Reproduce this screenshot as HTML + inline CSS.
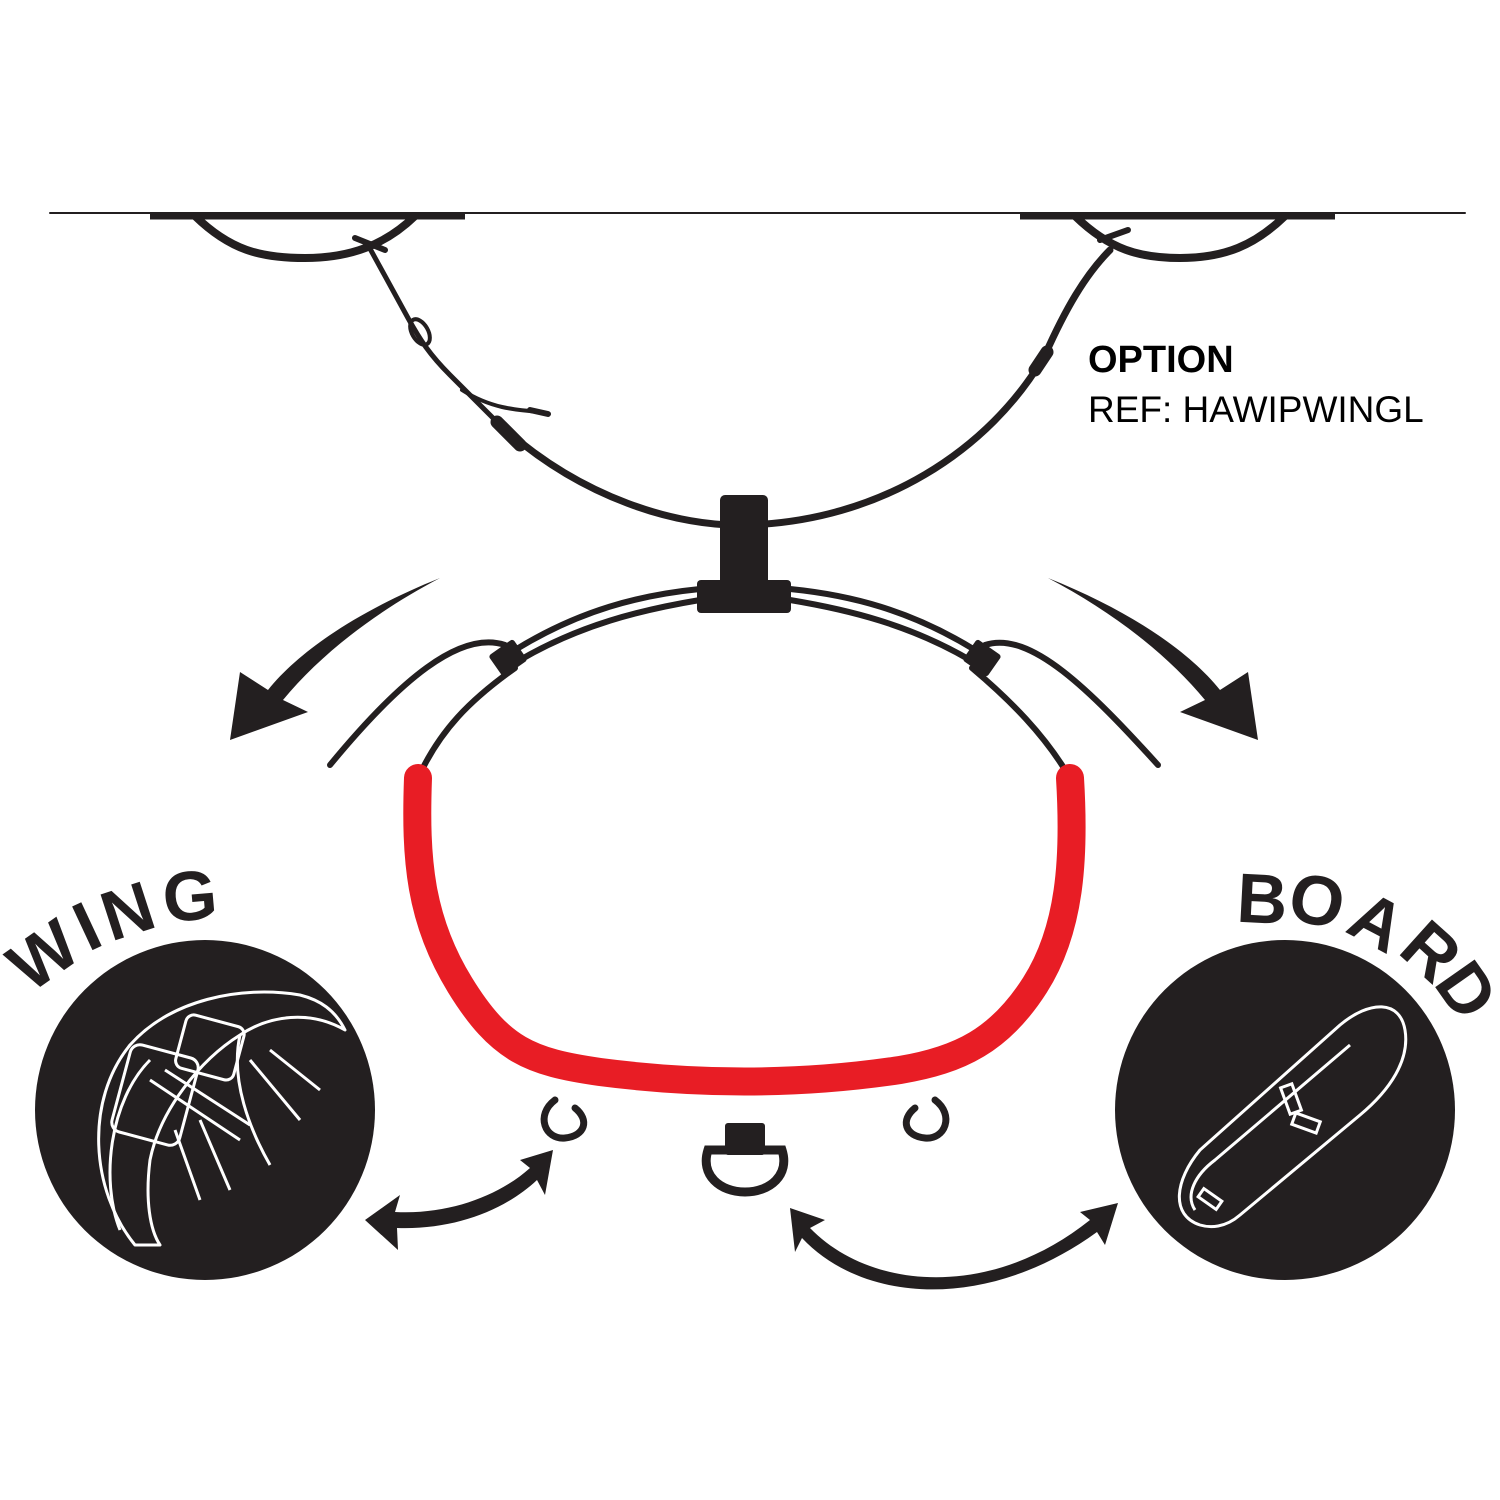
<!DOCTYPE html>
<html><head><meta charset="utf-8"><style>html,body{margin:0;padding:0;background:#fff}svg{display:block}</style></head>
<body>
<svg width="1500" height="1500" viewBox="0 0 1500 1500" xmlns="http://www.w3.org/2000/svg" font-family="Liberation Sans, sans-serif">
<rect width="1500" height="1500" fill="#fff"/>
<g fill="none" stroke="#231f20" stroke-linecap="round">
<line x1="50" y1="213" x2="1465" y2="213" stroke-width="2"/>
<line x1="150" y1="216" x2="465" y2="216" stroke-width="7" stroke-linecap="butt"/>
<line x1="1020" y1="216" x2="1335" y2="216" stroke-width="7" stroke-linecap="butt"/>
<path d="M195,216 C230,250 260,258 305,258 C350,258 385,245 415,216" stroke-width="8"/>
<path d="M1075,216 C1110,250 1140,258 1180,258 C1225,258 1255,245 1285,216" stroke-width="8"/>
<path d="M368,245 L408,318 C420,340 430,355 450,375 L500,425" stroke-width="5"/>
<ellipse cx="420" cy="332" rx="8" ry="14" transform="rotate(-30 420 332)" stroke-width="4"/>
<path d="M462,390 C490,408 515,410 540,412" stroke-width="4"/>
<path d="M355,238 L385,250 M530,410 L548,414" stroke-width="6"/>
<path d="M1100,240 L1128,230" stroke-width="6"/>
<path d="M495,420 C580,500 680,527 745,525 C880,522 990,450 1045,355 C1065,310 1085,275 1110,250" stroke-width="7"/>
<path d="M497,422 L520,445" stroke-width="13"/>
<path d="M1035,370 L1047,352" stroke-width="13"/>
<path d="M515,650 C580,610 640,595 700,589 M520,660 C580,625 640,610 700,600" stroke-width="6"/>
<path d="M975,650 C910,610 850,595 790,589 M970,660 C910,625 850,610 790,600" stroke-width="6"/>
<path d="M505,645 C460,630 400,680 330,765" stroke-width="6"/>
<path d="M985,645 C1030,630 1090,690 1158,765" stroke-width="6"/>
<path d="M515,668 C470,700 440,730 418,778" stroke-width="6"/>
<path d="M972,668 C1010,700 1045,735 1070,778" stroke-width="6"/>
<path d="M555,1100 C535,1115 545,1140 565,1138 C585,1136 590,1120 575,1108" stroke-width="7"/>
<path d="M935,1100 C955,1115 945,1140 925,1138 C905,1136 900,1120 915,1108" stroke-width="7"/>
<path d="M708,1150 C700,1175 720,1192 745,1192 C770,1192 790,1175 782,1150 Z" stroke-width="9"/>
</g>
<g fill="#231f20">
<rect x="720" y="495" width="48" height="92" rx="5"/>
<rect x="697" y="580" width="94" height="33" rx="4"/>
<rect x="493" y="645" width="30" height="26" rx="3" transform="rotate(-35 508 658)"/>
<rect x="967" y="645" width="30" height="26" rx="3" transform="rotate(35 982 658)"/>
<rect x="725" y="1123" width="40" height="32" rx="3"/>
<path d="M440,578 C360,610 300,650 268,690 L240,672 L230,740 L308,712 L283,700 C320,655 375,612 440,578 Z"/>
<path d="M1048,578 C1128,610 1188,650 1220,690 L1248,672 L1258,740 L1180,712 L1205,700 C1168,655 1113,612 1048,578 Z"/>
<circle cx="205" cy="1110" r="170"/>
<circle cx="1285" cy="1110" r="170"/>
<path d="M365,1220 L400,1195 L395,1212 C450,1215 500,1195 530,1168 L520,1160 L553,1150 L545,1195 L537,1180 C505,1210 455,1230 397,1228 L398,1250 Z"/>
<path d="M790,1208 L825,1220 L810,1228 C870,1290 990,1300 1090,1220 L1080,1212 L1118,1203 L1105,1245 L1097,1232 C990,1310 865,1305 802,1238 L795,1252 Z"/>
</g>
<path d="M418,778 C415,860 420,920 460,985 C500,1050 530,1062 600,1072 C700,1085 800,1085 900,1070 C960,1060 1000,1040 1035,985 C1070,930 1075,860 1070,778" fill="none" stroke="#e81d25" stroke-width="28" stroke-linecap="round"/>
<g fill="none" stroke="#fff" stroke-width="3" stroke-linejoin="round">
<path d="M135,1245 C90,1190 85,1100 130,1045 C170,1000 240,985 300,995 C320,1000 335,1010 345,1030 C310,1010 270,1015 240,1035 C200,1060 160,1110 150,1160 C145,1200 150,1230 160,1245 Z"/>
<path d="M120,1230 C100,1180 110,1100 150,1060 M240,1035 C230,1080 250,1130 270,1165"/>
<rect x="120" y="1050" width="70" height="90" rx="10" transform="rotate(15 155 1095)"/>
<rect x="180" y="1020" width="60" height="55" rx="8" transform="rotate(15 210 1047)"/>
<path d="M150,1080 L240,1140 M165,1070 L250,1125 M175,1130 L200,1200 M200,1120 L230,1190 M250,1060 L300,1120 M270,1050 L320,1090"/>
</g>
<g fill="none" stroke="#fff" stroke-width="3">
<path d="M1200,1225 C1170,1215 1175,1180 1200,1150 L1340,1025 C1370,1000 1400,1000 1405,1030 C1410,1060 1390,1090 1360,1115 L1240,1215 C1225,1228 1210,1228 1200,1225 Z"/>
<path d="M1195,1210 C1185,1195 1195,1175 1215,1160 L1350,1045"/>
<rect x="1285" y="1085" width="12" height="28" transform="rotate(-20 1291 1099)"/>
<rect x="1300" y="1110" width="12" height="26" transform="rotate(-70 1306 1123)"/>
<rect x="1205" y="1188" width="10" height="22" transform="rotate(-55 1210 1199)"/>
</g>
<g font-weight="bold" font-size="70" fill="#231f20" text-anchor="middle">
<text transform="translate(57,975) rotate(-35)">W</text>
<text transform="translate(97,948) rotate(-25)">I</text>
<text transform="translate(135,934) rotate(-18)">N</text>
<text transform="translate(192,920) rotate(-5)">G</text>
<text transform="translate(1261,923) rotate(3)">B</text>
<text transform="translate(1312,924) rotate(12)">O</text>
<text transform="translate(1366,943) rotate(28)">A</text>
<text transform="translate(1415,969) rotate(42)">R</text>
<text transform="translate(1447,1004) rotate(55)">D</text>
</g>
<text x="1088" y="372" font-size="38" font-weight="bold" fill="#000">OPTION</text>
<text x="1088" y="422" font-size="37" fill="#000">REF: HAWIPWINGL</text>
</svg>
</body></html>
